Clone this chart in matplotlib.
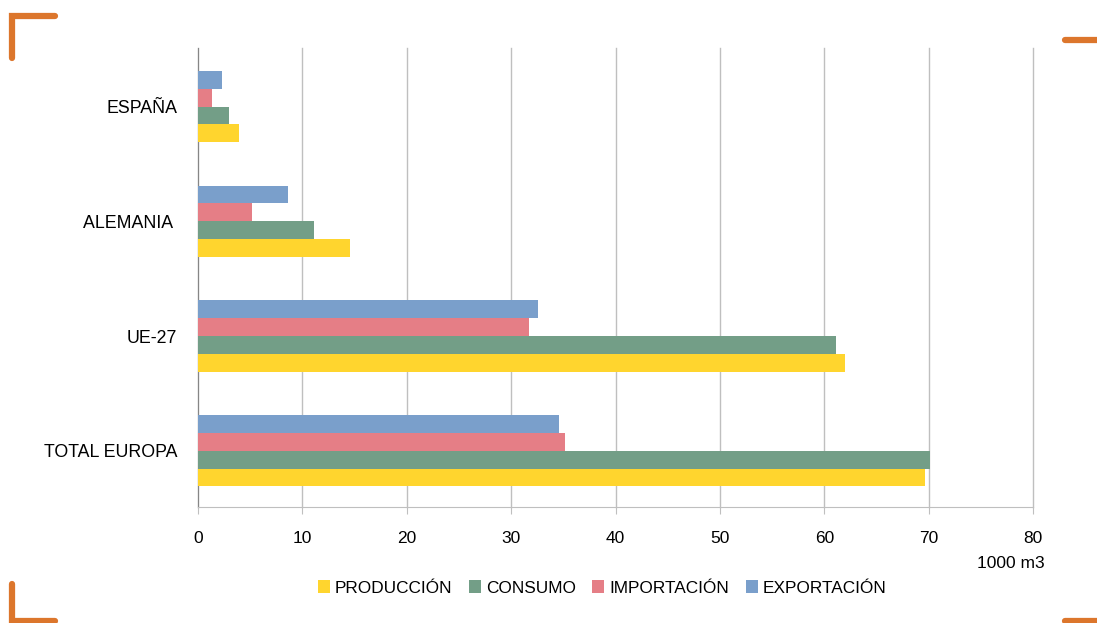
import matplotlib.pyplot as plt
import numpy as np
from matplotlib.lines import Line2D

plt.rcParams['font.family'] = ['Liberation Sans', 'DejaVu Sans']

regiones = ['TOTAL EUROPA', 'UE-27', 'ALEMANIA ', 'ESPAÑA']
produccion = [69.7, 62.0, 14.6, 3.9]
consumo = [70.1, 61.1, 11.1, 3.0]
importacion = [35.2, 31.7, 5.2, 1.3]
exportacion = [34.6, 32.6, 8.6, 2.3]

series = [('PRODUCCIÓN', produccion, '#FFD52E'),
          ('CONSUMO', consumo, '#739E87'),
          ('IMPORTACIÓN', importacion, '#E57E86'),
          ('EXPORTACIÓN', exportacion, '#7A9FCB')]

fig = plt.figure(figsize=(10.97, 6.23), dpi=100)
ax = fig.add_axes([198/1097, 1-507/623, (1033-198)/1097, (507-48)/623])

y = np.arange(len(regiones))
h = 0.155
for i, (nombre, vals, color) in enumerate(series):
    ax.barh(y + (i - 1.5) * h, vals, height=h, color=color, label=nombre, zorder=3)

ax.set_xlim(0, 80)
ax.set_ylim(-0.49, 3.51)
ax.set_xticks(range(0, 81, 10))
ax.set_yticks(y)
ax.set_yticklabels(regiones)
ax.grid(axis='x', color='#BFBFBF', linewidth=1, zorder=0)
for gl in ax.get_xgridlines():
    gl.set_clip_on(False)
ax.set_axisbelow(True)
for s in ['top', 'right']:
    ax.spines[s].set_visible(False)
ax.spines['left'].set_color('#868686')
ax.spines['bottom'].set_color('#BFBFBF')
ax.tick_params(axis='x', length=5, color='#BFBFBF', labelsize=12.5, pad=12)
ax.tick_params(axis='y', length=0, labelsize=12.8, pad=15)

fig.text(1045/1097, 1-563/623, '1000 m3', ha='right', va='center', fontsize=12.5)

handles, labels = ax.get_legend_handles_labels()
fig.legend(handles, labels, loc='center', bbox_to_anchor=(602/1097, 1-588/623), ncol=4,
           frameon=False, fontsize=12.4, handlelength=0.7, handleheight=0.7,
           handletextpad=0.3, columnspacing=0.95)

# orange corner marks
orange = '#DC762C'
lw = 4.5
for xs, ys in [([12/1097, 12/1097, 55/1097], [1-58/623, 1-16/623, 1-16/623]),
               ([1065/1097, 1.0], [1-40/623, 1-40/623]),
               ([12/1097, 12/1097, 55/1097], [1-584/623, 1-621/623, 1-621/623]),
               ([1065/1097, 1.0], [1-621/623, 1-621/623])]:
    fig.add_artist(Line2D(xs, ys, color=orange, linewidth=lw,
                          solid_capstyle='round', solid_joinstyle='miter'))

fig.savefig('out.png', dpi=100)
